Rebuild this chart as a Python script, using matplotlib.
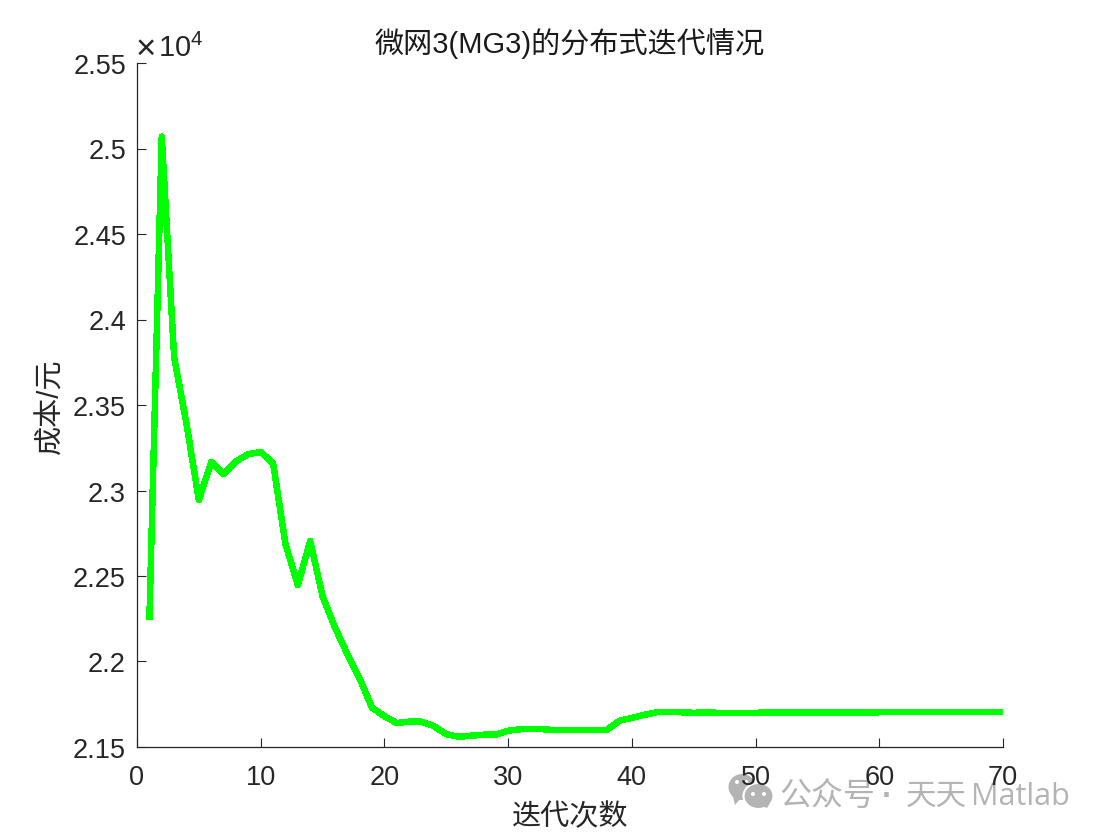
import matplotlib
matplotlib.use("Agg")
import matplotlib.pyplot as plt
from matplotlib.patches import Ellipse, Polygon

plt.rcParams['font.family'] = ['Liberation Sans', 'Noto Sans CJK SC']
plt.rcParams['mathtext.fontset'] = 'custom'
plt.rcParams['mathtext.rm'] = 'Liberation Sans'

W, H = 1104, 837
DARK = '#262626'

# cost per iteration, in units of 10^4 yuan
iterations = list(range(1, 71))
cost = [2.2245, 2.507, 2.378, 2.339, 2.2944, 2.3167, 2.3096, 2.317, 2.3213, 2.3225,
        2.316, 2.2687, 2.2447, 2.2705, 2.238, 2.22, 2.2044, 2.19, 2.173, 2.168,
        2.164, 2.1648, 2.1648, 2.1622, 2.1575, 2.156, 2.1566, 2.1572, 2.1572, 2.1595,
        2.1604, 2.1606, 2.1603, 2.1598, 2.1598, 2.16, 2.16, 2.1601, 2.1654, 2.167,
        2.1688, 2.1703, 2.1703, 2.1703, 2.17, 2.1702, 2.17, 2.17, 2.17, 2.17,
        2.1702, 2.1702, 2.1702, 2.1702, 2.1702, 2.1702, 2.1702, 2.1702, 2.1702, 2.1703,
        2.1703, 2.1703, 2.1703, 2.1703, 2.1703, 2.1703, 2.1703, 2.1703, 2.1703, 2.1703]

x_ticks = [0, 10, 20, 30, 40, 50, 60, 70]
y_ticks = [2.15, 2.2, 2.25, 2.3, 2.35, 2.4, 2.45, 2.5, 2.55]
y_labels = ['2.15', '2.2', '2.25', '2.3', '2.35', '2.4', '2.45', '2.5', '2.55']


def fx(px):
    return px / W


def fy(py):
    return 1 - py / H


fig = plt.figure(figsize=(W / 100, H / 100), dpi=100)
ax = fig.add_axes([fx(137), fy(748), (1003 - 137) / W, (748 - 64) / H])

ax.plot(iterations, cost, color='#00ff00', lw=3.9, solid_joinstyle='round', solid_capstyle='butt', antialiased=False)
ax.set_xlim(0, 70)
ax.set_ylim(2.15, 2.55)
ax.set_xticks(x_ticks)
ax.set_yticks(y_ticks)
ax.set_yticklabels(y_labels)
ax.spines['top'].set_visible(False)
ax.spines['right'].set_visible(False)
for s in ['left', 'bottom']:
    ax.spines[s].set_linewidth(0.9)
    ax.spines[s].set_color(DARK)
ax.tick_params(direction='in', length=6.5, width=0.8, color=DARK, labelcolor=DARK, labelsize=19.5)
ax.tick_params(axis='x', pad=12)
ax.tick_params(axis='y', pad=8)

fig.text(fx(570), fy(53), '微网3(MG3)的分布式迭代情况', ha='center', va='baseline', fontsize=21, color='#1a1a1a')
fig.text(fx(570), fy(825), '迭代次数', ha='center', va='baseline', fontsize=21, color=DARK)
fig.text(fx(51), fy(406), '成本/元', ha='center', va='center', rotation=90, fontsize=21, color=DARK)

# exponent label
fig.text(fx(136), fy(59), '×', ha='left', va='baseline', fontsize=25, color=DARK, family=['Liberation Sans'])
fig.text(fx(158), fy(57), r'$\mathrm{10}^{4}$', ha='left', va='baseline', fontsize=21, color=DARK)

# watermark
GREY = '#b4b4b4'
fig.add_artist(Ellipse((742, H - 788), 27, 26, transform=None, color=GREY, lw=0, zorder=-3))
fig.add_artist(Polygon([(733, H - 798), (740, H - 800), (735, H - 806)], closed=True, transform=None, color=GREY, lw=0, zorder=-3))
fig.add_artist(Ellipse((758.5, H - 797), 30, 26, transform=None, facecolor=GREY, edgecolor='white', lw=1.5, zorder=-2))
fig.add_artist(Polygon([(762, H - 807), (770, H - 804), (767, H - 809)], closed=True, transform=None, color=GREY, lw=0, zorder=-2))
for ex, ey in [(737, 783), (746, 783), (753, 795), (764, 795)]:
    fig.add_artist(Ellipse((ex, H - ey), 4, 4, transform=None, color='white', lw=0, zorder=-1))
fig.text(fx(779), fy(805), '公众号', ha='left', va='baseline', fontsize=23, color=GREY, zorder=-1)
fig.text(fx(887), fy(805), '·', ha='center', va='baseline', fontsize=23, color=GREY, zorder=-1, fontweight='bold')
fig.text(fx(906), fy(805), '天天', ha='left', va='baseline', fontsize=22, color=GREY, zorder=-1)
fig.text(fx(971), fy(805), 'Matlab', ha='left', va='baseline', fontsize=22, color=GREY, zorder=-1,
         family=['Open Sans', 'Noto Sans CJK SC'])

fig.savefig('out.png', dpi=100)
